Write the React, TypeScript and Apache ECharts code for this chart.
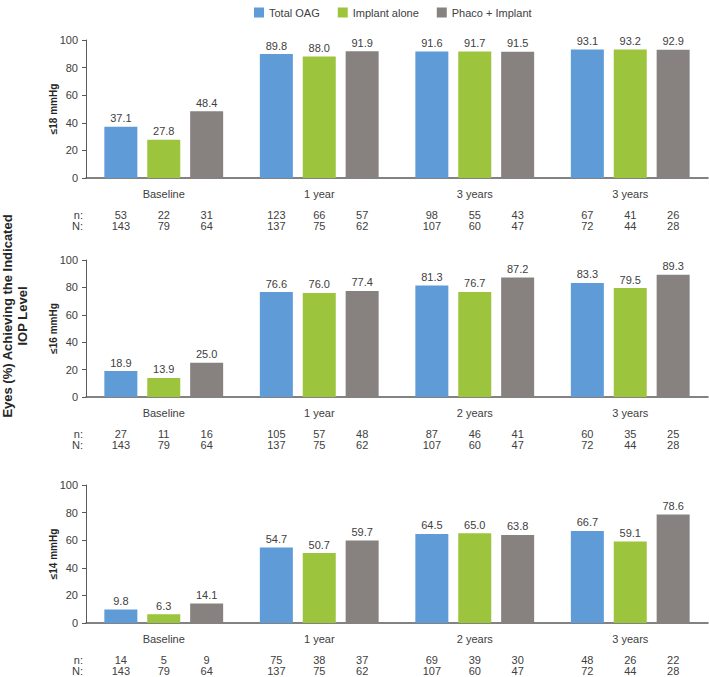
import React, { useEffect, useRef } from "react";
import * as echarts from "echarts";

const seriesNames = ["Total OAG", "Implant alone", "Phaco + Implant"];
const colors = ["#5f9bd6", "#9cc43c", "#87827f"];

const panelTitles = ["≤18 mmHg", "≤16 mmHg", "≤14 mmHg"];
const cats18 = ["Baseline", "1 year", "3 years", "3 years"];
const cats16 = ["Baseline", "1 year", "2 years", "3 years"];
const cats14 = ["Baseline", "1 year", "2 years", "3 years"];

// percentages
const pct18Total = [37.1, 89.8, 91.6, 93.1];
const pct18Implant = [27.8, 88.0, 91.7, 93.2];
const pct18Phaco = [48.4, 91.9, 91.5, 92.9];

const pct16Total = [18.9, 76.6, 81.3, 83.3];
const pct16Implant = [13.9, 76.0, 76.7, 79.5];
const pct16Phaco = [25.0, 77.4, 87.2, 89.3];

const pct14Total = [9.8, 54.7, 64.5, 66.7];
const pct14Implant = [6.3, 50.7, 65.0, 59.1];
const pct14Phaco = [14.1, 59.7, 63.8, 78.6];

// n counts
const n18Total = [53, 123, 98, 67];
const n18Implant = [22, 66, 55, 41];
const n18Phaco = [31, 57, 43, 26];

const n16Total = [27, 105, 87, 60];
const n16Implant = [11, 57, 46, 35];
const n16Phaco = [16, 48, 41, 25];

const n14Total = [14, 75, 69, 48];
const n14Implant = [5, 38, 39, 26];
const n14Phaco = [9, 37, 30, 22];

// N denominators (same for all panels)
const bigNTotal = [143, 137, 107, 72];
const bigNImplant = [79, 75, 60, 44];
const bigNPhaco = [64, 62, 47, 28];

const yTicks = [0, 20, 40, 60, 80, 100];

const FONT = "'Liberation Sans', Arial, sans-serif";
const TXT = "#404040";
const AXIS = "#595959";
const BAR_W = 33;
const BAR_GAP_PCT = 30;

const panels = [
  { cats: cats18, pct: [pct18Total, pct18Implant, pct18Phaco], n: [n18Total, n18Implant, n18Phaco] },
  { cats: cats16, pct: [pct16Total, pct16Implant, pct16Phaco], n: [n16Total, n16Implant, n16Phaco] },
  { cats: cats14, pct: [pct14Total, pct14Implant, pct14Phaco], n: [n14Total, n14Implant, n14Phaco] },
];
const bigN = [bigNTotal, bigNImplant, bigNPhaco];

const grids = [
  { top: 40, height: 138 },
  { top: 260, height: 137 },
  { top: 485, height: 138 },
];

export default function App() {
  const ref = useRef<HTMLDivElement>(null);

  useEffect(() => {
    if (!ref.current) return;
    const chart = echarts.init(ref.current, undefined, { renderer: "svg" });

    const stride = BAR_W * (1 + BAR_GAP_PCT / 100);

    const series: any[] = [];
    panels.forEach((p, pi) => {
      p.pct.forEach((vals, si) => {
        series.push({
          type: "bar",
          name: seriesNames[si],
          xAxisIndex: pi,
          yAxisIndex: pi,
          data: vals,
          barWidth: BAR_W,
          barGap: BAR_GAP_PCT + "%",
          itemStyle: { color: colors[si] },
          label: {
            show: true,
            position: "top",
            distance: 3,
            fontSize: 11,
            fontFamily: FONT,
            color: TXT,
            formatter: (prm: any) => Number(prm.value).toFixed(1),
          },
        });
      });
      const rows: number[][] = [];
      for (let g = 0; g < p.cats.length; g++) {
        for (let k = 0; k < 3; k++) {
          rows.push([g, k, p.n[k][g], bigN[k][g]]);
        }
      }
      series.push({
        type: "custom",
        xAxisIndex: pi,
        yAxisIndex: pi,
        silent: true,
        encode: { x: 0, y: 1 },
        data: rows,
        renderItem: (params: any, api: any) => {
          const g = api.value(0);
          const k = api.value(1);
          const c = api.coord([g, 0]);
          const x = c[0] + (k - 1) * stride;
          const y0 = c[1];
          const mk = (tx: number, ty: number, text: string, align: string) => ({
            type: "text",
            x: tx,
            y: ty,
            style: {
              text,
              align,
              textAlign: align,
              verticalAlign: "middle",
              textVerticalAlign: "middle",
              fontSize: 11,
              fontFamily: FONT,
              fill: TXT,
            },
          });
          const children: any[] = [
            mk(x, y0 + 37, String(api.value(2)), "center"),
            mk(x, y0 + 48, String(api.value(3)), "center"),
          ];
          if (g === 0 && k === 0) {
            const cx = params.coordSys.x - 3;
            children.push(mk(cx, y0 + 37, "n:", "right"));
            children.push(mk(cx, y0 + 48, "N:", "right"));
          }
          return { type: "group", children };
        },
      });
    });

    const option: any = {
      animation: false,
      textStyle: { fontFamily: FONT },
      legend: {
        data: seriesNames,
        top: 2,
        left: 249,
        itemWidth: 10,
        itemHeight: 10,
        itemGap: 18,
        icon: "rect",
        textStyle: { fontSize: 11, color: TXT, fontFamily: FONT },
      },
      graphic: [
        {
          type: "text",
          x: 15,
          y: 316,
          rotation: Math.PI / 2,
          style: {
            text: "Eyes (%) Achieving the Indicated\nIOP Level",
            align: "center",
            textAlign: "center",
            verticalAlign: "middle",
            textVerticalAlign: "middle",
            fontSize: 13,
            fontWeight: "bold",
            lineHeight: 15,
            fontFamily: FONT,
            fill: "#262626",
          },
        },
      ],
      grid: grids.map((g) => ({ left: 86, right: 1, top: g.top, height: g.height })),
      xAxis: panels.map((p, i) => ({
        type: "category",
        gridIndex: i,
        data: p.cats,
        axisLine: { show: true, lineStyle: { color: AXIS, width: 1.5 } },
        axisTick: { show: false },
        axisLabel: { fontSize: 11, color: TXT, fontFamily: FONT, margin: 10 },
      })),
      yAxis: panels.map((p, i) => ({
        type: "value",
        gridIndex: i,
        min: yTicks[0],
        max: yTicks[yTicks.length - 1],
        interval: yTicks[1] - yTicks[0],
        name: panelTitles[i],
        nameLocation: "middle",
        nameRotate: 90,
        nameGap: 28,
        nameMoveOverlap: false,
        nameTextStyle: { fontSize: 10, fontWeight: "bold", color: "#262626", fontFamily: FONT },
        axisLine: { show: true, lineStyle: { color: AXIS, width: 1 } },
        axisTick: { show: true, length: 4, lineStyle: { color: AXIS } },
        splitLine: { show: false },
        axisLabel: { fontSize: 11, color: TXT, fontFamily: FONT, margin: 8 },
      })),
      series,
    };

    chart.setOption(option);
    return () => chart.dispose();
  }, []);

  return <div ref={ref} style={{ width: 709, height: 677, position: "absolute", left: 0, top: 0 }} />;
}
